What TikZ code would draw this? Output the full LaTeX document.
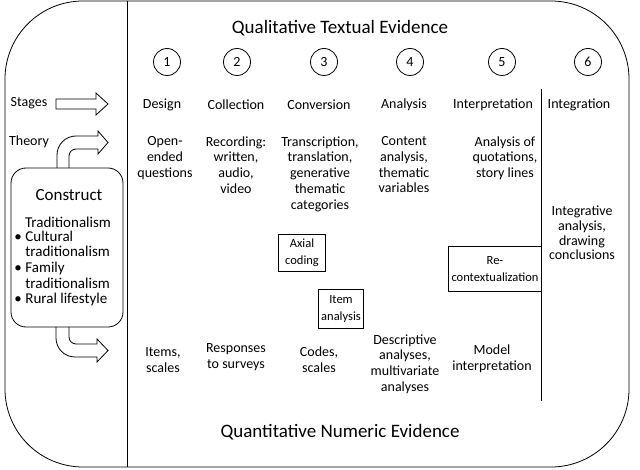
\documentclass[tikz,border=0pt]{standalone}
\usepackage{fontspec}
\setmainfont{Carlito}
\usepackage{tikz}

\begin{document}
\begin{tikzpicture}[x=1pt, y=-1pt, line width=0.8pt,
  txt/.style={align=center, inner sep=0pt, font=\fontsize{14}{15.8}\selectfont},
  headline/.style={inner sep=0pt, font=\fontsize{19}{23}\selectfont},
  stagenum/.style={circle, draw, minimum size=27pt, inner sep=0pt, font=\fontsize{14}{16}\selectfont},
  sidebox/.style={draw, inner sep=3pt, align=center, font=\fontsize{12.5}{16.7}\selectfont}]

  \useasboundingbox (0,0) rectangle (640,470);

  \draw[rounded corners=78pt] (5,1) rectangle (629,467);
  \draw (127,1) -- (127,467);
  \draw (541,89) -- (541,401);

  \node[headline] (qual) at (340,28) {Qualitative Textual Evidence};
  \node[headline] (quant) at (340,432) {Quantitative Numeric Evidence};

  \foreach \n/\x in {1/167,2/237,3/324,4/410,5/502,6/588}
    \node[stagenum] (c\n) at (\x,62) {\n};

  % stage names
  \node[txt] (design) at (162,105) {Design};
  \node[txt] (collection) at (236,105) {Collection};
  \node[txt] (conversion) at (319,105) {Conversion};
  \node[txt] (analysis) at (404,105) {Analysis};
  \node[txt] (interpretation) at (493,105) {Interpretation};
  \node[txt] (integration) at (579,105) {Integration};

  % qualitative row
  \node[txt, anchor=north] (q1) at (165,136) {Open-\\ended\\questions};
  \node[txt, anchor=north] (q2) at (236,136) {Recording:\\written,\\audio,\\video};
  \node[txt, anchor=north] (q3) at (320,136) {Transcription,\\translation,\\generative\\thematic\\categories};
  \node[txt, anchor=north] (q4) at (404,136) {Content\\analysis,\\thematic\\variables};
  \node[txt, anchor=north] (q5) at (505,136) {Analysis of\\quotations,\\story lines};
  \node[txt, font=\fontsize{14}{14.6}\selectfont] (q6) at (582,233) {Integrative\\analysis,\\drawing\\conclusions};

  % quantitative row
  \node[txt] (n1) at (163,360) {Items,\\scales};
  \node[txt] (n2) at (236,357) {Responses\\to surveys};
  \node[txt] (n3) at (319,360) {Codes,\\scales};
  \node[txt] (n4) at (405,364) {Descriptive\\analyses,\\multivariate\\analyses};
  \node[txt] (n5) at (492,359) {Model\\interpretation};

  \node[sidebox, minimum width=47pt, minimum height=37pt] (axial) at (302,253) {Axial\\coding};
  \node[sidebox, minimum width=45pt, minimum height=39pt] (item) at (341,309) {Item\\analysis};
  \node[sidebox, minimum width=86pt, minimum height=45pt] (recon) at (495,269) {Re-\\contextualization};

  % left column
  \node[txt] (stages) at (29,103) {Stages};
  \node[txt] (theory) at (29,142) {Theory};
  \node[draw, rounded corners=15pt, minimum width=112pt, minimum height=159pt] (construct) at (67,247.5) {};
  \node[txt, font=\fontsize{17}{19}\selectfont] (cname) at (69,195) {Construct};
  \node[txt, font=\fontsize{15}{17}\selectfont] (trad) at (68,222) {Traditionalism};
  \node[txt, align=left, anchor=north west, font=\fontsize{15}{15.6}\selectfont] (items) at (14,230.5) {%
    \makebox[11pt][l]{\textbullet}Cultural\\
    \hspace*{11pt}traditionalism\\
    \makebox[11pt][l]{\textbullet}Family\\
    \hspace*{11pt}traditionalism\\
    \makebox[11pt][l]{\textbullet}Rural lifestyle};

  % arrows
  \draw (56,99) -- (96,99) -- (96,93) -- (108,104) -- (96,115) -- (96,109) -- (56,109) -- cycle;
  \draw (57,168) [rounded corners=19pt] -- (57,136) [sharp corners] -- (98,136) -- (98,131)
    -- (108,142.5) -- (98,154) -- (98,149) [rounded corners=7pt] -- (69,149) [sharp corners] -- (69,168);
  \draw (56,327) [rounded corners=19pt] -- (56,357) [sharp corners] -- (97,357) -- (97,362)
    -- (108,350.5) -- (97,339) -- (97,344) [rounded corners=7pt] -- (69,344) [sharp corners] -- (69,327);

\end{tikzpicture}
\end{document}
